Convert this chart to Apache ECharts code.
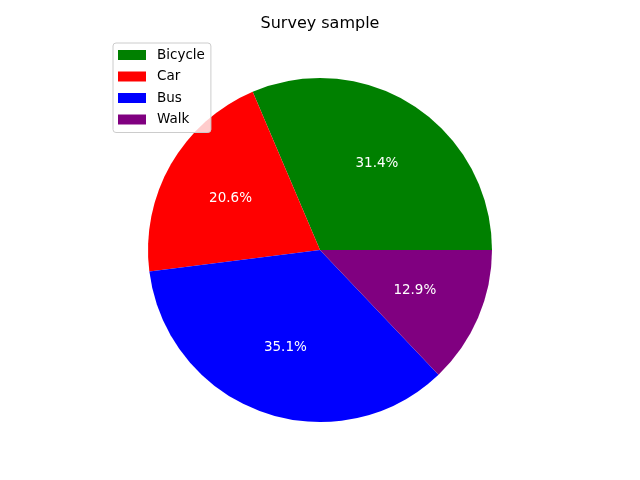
<!DOCTYPE html>
<html lang="en">
<head>
    <meta charset="UTF-8">
    <title>Survey sample</title>
    <script src="https://cdn.jsdelivr.net/npm/echarts@6/dist/echarts.min.js"></script>
    <style>
        html, body { margin: 0; padding: 0; background: #fff; }
        #chart { width: 640px; height: 480px; }
    </style>
</head>
<body>
<div id="chart"></div>
<script>
    var categories = ['Bicycle', 'Car', 'Bus', 'Walk']
    var values = [31.4, 20.6, 35.1, 12.9]
    var colors = ['#008000', '#ff0000', '#0000ff', '#800080']

    var font = 'DejaVu Sans'
    var r = 172

    var pieData = categories.map(function (name, i) {
        return { name: name, value: values[i], itemStyle: { color: colors[i] } }
    })

    var chart = echarts.init(document.getElementById('chart'), null, { renderer: 'canvas' })
    chart.setOption({
        animation: false,
        title: {
            text: 'Survey sample',
            left: 'center',
            top: 11,
            textStyle: { fontFamily: font, fontSize: 16, fontWeight: 'normal', color: '#000' }
        },
        legend: {
            orient: 'vertical',
            left: 113,
            top: 43,
            padding: [5, 6, 6, 5],
            itemWidth: 28,
            itemHeight: 10,
            itemGap: 7.5,
            backgroundColor: 'rgba(255,255,255,0.8)',
            borderColor: '#cccccc',
            borderWidth: 1,
            borderRadius: 3,
            icon: 'rect',
            data: categories,
            textStyle: { fontFamily: font, fontSize: 13.5, color: '#000', lineHeight: 14, padding: [0, 0, 0, 6] }
        },
        series: [
            {
                type: 'pie',
                center: [320, 250],
                radius: [0, r],
                startAngle: 0,
                clockwise: false,
                data: pieData,
                label: { show: false },
                labelLine: { show: false },
                emphasis: { disabled: true }
            },
            {
                // label-only ring so that text sits near 0.6 of the radius
                type: 'pie',
                center: [320, 250],
                radius: [r * 0.165, r],
                startAngle: 0,
                clockwise: false,
                silent: true,
                legendHoverLink: false,
                data: categories.map(function (name, i) {
                    return { name: name + ' ', value: values[i] }
                }),
                itemStyle: { color: 'rgba(0,0,0,0)' },
                label: {
                    show: true,
                    position: 'inside',
                    formatter: function (p) { return p.value.toFixed(1) + '%' },
                    color: '#fff',
                    fontFamily: font,
                    fontSize: 13.5
                },
                labelLine: { show: false },
                emphasis: { disabled: true }
            }
        ]
    })
</script>
</body>
</html>
